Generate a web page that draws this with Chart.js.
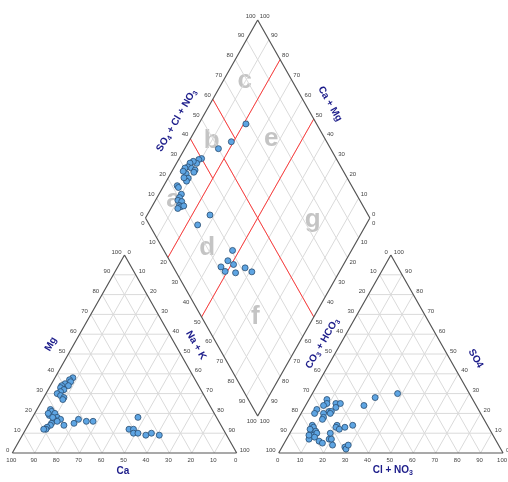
<!DOCTYPE html>
<html>
<head>
<meta charset="utf-8">
<script src="https://cdn.jsdelivr.net/npm/chart.js@4.4.1/dist/chart.umd.min.js"></script>
<style>
  html, body { margin: 0; padding: 0; background: #fff; }
  canvas { display: block; }
</style>
</head>
<body>
<canvas id="piper" width="508" height="482"></canvas>
<script>
// cations, % meq/l
const catCa  = [54, 56, 56, 59, 61, 58, 62, 61, 63, 65, 64, 63, 64,
                72, 72, 74, 71, 71, 70, 73, 72, 75, 76, 78, 79, 80, 74, 73,
                70, 65, 62, 59, 56,
                35, 42, 40, 41, 39, 36, 33, 30];
const catMg  = [38, 37, 36, 35, 34, 34, 33, 32, 31, 30, 29, 28, 27,
                22, 21, 19, 20, 18, 17, 17, 16, 15, 14, 13, 12, 12, 20, 18,
                14, 15, 17, 16, 16,
                18, 12, 12, 10, 10, 9, 10, 9];
const catNaK = [8, 7, 8, 6, 5, 8, 5, 7, 6, 5, 7, 9, 9,
                6, 7, 7, 9, 11, 13, 10, 12, 10, 10, 9, 9, 8, 6, 9,
                16, 20, 21, 25, 28,
                47, 46, 48, 49, 51, 55, 57, 61];

// anions, % meq/l
const anHCO3  = [65, 66, 68, 72, 74, 70, 71, 67, 62, 60, 63, 66, 67, 72,
                 50, 43, 32,
                 78, 78, 80, 78, 80, 83, 78, 79, 78, 74, 73, 74, 67, 68, 67, 64, 60, 72, 69, 69, 67, 80, 82, 80];
const anSO4   = [27, 25, 24, 22, 20, 20, 18, 21, 25, 25, 23, 21, 20, 17,
                 24, 28, 30,
                 14, 13, 11, 11, 9, 7, 10, 6, 5, 7, 7, 4, 14, 13, 12, 13, 14, 10, 3, 2, 4, 12, 9, 8];
const anClNO3 = [8, 9, 8, 6, 6, 10, 11, 12, 13, 15, 14, 13, 13, 11,
                 26, 29, 38,
                 8, 9, 9, 11, 11, 10, 12, 15, 17, 19, 20, 22, 19, 19, 21, 23, 26, 18, 28, 29, 29, 8, 9, 12];

// diamond: Na+K and SO4+Cl+NO3
const dmNaK    = [15, 10, 9, 9, 7, 6, 6, 5, 7, 5, 8, 10, 10, 9, 9, 7, 6, 7, 10, 10, 10, 12, 12, 13, 12, 14,
                  19, 21, 28, 25,
                  47, 47.5, 51, 46, 49, 54, 57, 61];
const dmSO4Cl  = [50, 40, 38.5, 36.6, 35.6, 33.7, 31.8, 30.2, 29.3, 28.6, 33.1, 34.2, 33.1, 29.1, 27.6, 27.3, 22.3, 22.4, 22, 20.3, 18.9, 20.3, 18.3, 18.7, 16.8, 20.1,
                  57.5, 68.5, 29.5, 21.5,
                  30.6, 25.9, 27.5, 21.3, 22, 26.3, 31.8, 33.8];

const ticks = [0, 10, 20, 30, 40, 50, 60, 70, 80, 90, 100];

// zone letters, placed by Na+K / SO4+Cl in the diamond
const zoneNames = ["a", "b", "c", "d", "e", "f", "g"];
const zoneNaK   = [8, 10, 9.5, 35, 36, 74, 75];
const zoneSO4Cl = [17, 49, 79, 20, 76, 24, 74];

// geometry
const H = Math.sqrt(3) / 2;
const GAP = 18.7;
const OX = 100 + GAP;
const LX = 50 + GAP / 2, LY = GAP * H + 100 * H; // left corner of diamond

function cat(ca, mg, na) {
  const t = ca + mg + na;
  return { x: (100 * na + 50 * mg) / t, y: H * 100 * mg / t };
}
function an(hco3, so4, cl) {
  const t = hco3 + so4 + cl;
  return { x: OX + (100 * cl + 50 * so4) / t, y: H * 100 * so4 / t };
}
function dia(n, s) {
  return { x: LX + (n + s) / 2, y: LY + H * (s - n) };
}

const BREAK = { x: null, y: null };
function segs(list) {
  const out = [];
  list.forEach(function (s) { out.push(s[0], s[1], BREAK); });
  return out;
}

// grid
const gridSegs = [];
for (let k = 10; k < 100; k += 10) {
  gridSegs.push([cat(100 - k, k, 0), cat(0, k, 100 - k)]);
  gridSegs.push([cat(100 - k, 0, k), cat(0, 100 - k, k)]);
  gridSegs.push([cat(k, 0, 100 - k), cat(k, 100 - k, 0)]);
  gridSegs.push([an(100 - k, k, 0), an(0, k, 100 - k)]);
  gridSegs.push([an(100 - k, 0, k), an(0, 100 - k, k)]);
  gridSegs.push([an(k, 0, 100 - k), an(k, 100 - k, 0)]);
  gridSegs.push([dia(k, 0), dia(k, 100)]);
  gridSegs.push([dia(0, k), dia(100, k)]);
}

const frameSegs = [
  [cat(100, 0, 0), cat(0, 0, 100)], [cat(0, 0, 100), cat(0, 100, 0)], [cat(0, 100, 0), cat(100, 0, 0)],
  [an(100, 0, 0), an(0, 0, 100)], [an(0, 0, 100), an(0, 100, 0)], [an(0, 100, 0), an(100, 0, 0)],
  [dia(0, 0), dia(0, 100)], [dia(0, 100), dia(100, 100)], [dia(100, 100), dia(100, 0)], [dia(100, 0), dia(0, 0)]
];

const zoneSegs = [
  [dia(20, 0), dia(20, 100)],
  [dia(50, 0), dia(50, 100)],
  [dia(20, 50), dia(100, 50)],
  [dia(0, 40), dia(20, 40)],
  [dia(0, 60), dia(20, 60)]
];

const samplePts = [];
catCa.forEach(function (v, i) { samplePts.push(cat(v, catMg[i], catNaK[i])); });
anHCO3.forEach(function (v, i) { samplePts.push(an(v, anSO4[i], anClNO3[i])); });
dmNaK.forEach(function (v, i) { samplePts.push(dia(v, dmSO4Cl[i])); });

function lineSet(data, color, width, order) {
  return {
    data: data, showLine: true, borderColor: color, borderWidth: width,
    pointRadius: 0, spanGaps: false, fill: false, order: order
  };
}

// tick labels along each edge
const tickAxes = [
  { at: k => cat(100 - k, k, 0), align: "right", dx: -3, dy: -3 },
  { at: k => cat(k, 0, 100 - k), align: "center", dx: -1, dy: 7 },
  { at: k => cat(0, 100 - k, k), align: "left", dx: 3, dy: -3 },
  { at: k => an(k, 100 - k, 0), align: "right", dx: -3, dy: -3 },
  { at: k => an(100 - k, 0, k), align: "center", dx: -1, dy: 7 },
  { at: k => an(0, k, 100 - k), align: "left", dx: 3, dy: -3 },
  { at: k => dia(0, k), align: "right", dx: -2, dy: -4 },
  { at: k => dia(100 - k, 100), align: "left", dx: 2, dy: -4 },
  { at: k => dia(k, 0), align: "right", dx: -1, dy: 5 },
  { at: k => dia(100, 100 - k), align: "left", dx: 2, dy: 5 }
];

const titles = [
  { parts: [["Mg", 0]], at: cat(50, 50, 0), dx: -17.5, dy: -10, rot: -60 },
  { parts: [["Ca", 0]], at: cat(50, 0, 50), dx: -1.5, dy: 18, rot: 0 },
  { parts: [["Na + K", 0]], at: cat(0, 50, 50), dx: 15.4, dy: -8.7, rot: 60 },
  { parts: [["SO", 0], ["4", 1], [" + Cl + NO", 0], ["3", 1]], at: dia(0, 44), dx: -18.4, dy: -10.4, rot: -60 },
  { parts: [["Ca + Mg", 0]], at: dia(47.8, 100), dx: 18.7, dy: -10.7, rot: 60 },
  { parts: [["CO", 0], ["3", 1], [" + HCO", 0], ["3", 1]], at: an(48.6, 51.4, 0), dx: -14.1, dy: -7.9, rot: -60 },
  { parts: [["SO4", 0]], at: an(0, 42, 58), dx: 19.8, dy: -11.2, rot: 60 },
  { parts: [["Cl + NO", 0], ["3", 1]], at: an(50, 0, 50), dx: 2, dy: 17, rot: 0 }
];

const textPlugin = {
  id: "piperText",
  beforeDatasetsDraw(chart) {
    const ctx = chart.ctx, sx = chart.scales.x, sy = chart.scales.y;
    ctx.save();
    ctx.font = "bold 26px Arial";
    ctx.fillStyle = "#c4c4c4";
    ctx.textAlign = "center";
    ctx.textBaseline = "middle";
    zoneNames.forEach(function (z, i) {
      const p = dia(zoneNaK[i], zoneSO4Cl[i]);
      ctx.fillText(z, sx.getPixelForValue(p.x), sy.getPixelForValue(p.y));
    });
    ctx.restore();
  },
  afterDatasetsDraw(chart) {
    const ctx = chart.ctx, sx = chart.scales.x, sy = chart.scales.y;
    ctx.save();
    ctx.font = "6px Arial";
    ctx.fillStyle = "#444";
    ctx.textBaseline = "middle";
    tickAxes.forEach(function (a) {
      ctx.textAlign = a.align;
      ticks.forEach(function (k) {
        const p = a.at(k);
        ctx.fillText(String(k), sx.getPixelForValue(p.x) + a.dx, sy.getPixelForValue(p.y) + a.dy);
      });
    });

    ctx.fillStyle = "#1c1c8a";
    titles.forEach(function (t) {
      const x = sx.getPixelForValue(t.at.x) + t.dx;
      const y = sy.getPixelForValue(t.at.y) + t.dy;
      let w = 0;
      t.parts.forEach(function (p) {
        ctx.font = p[1] ? "bold 7px Arial" : "bold 10px Arial";
        w += ctx.measureText(p[0]).width;
      });
      ctx.save();
      ctx.translate(x, y);
      ctx.rotate(t.rot * Math.PI / 180);
      ctx.textAlign = "left";
      let cx = -w / 2;
      t.parts.forEach(function (p) {
        ctx.font = p[1] ? "bold 7px Arial" : "bold 10px Arial";
        ctx.fillText(p[0], cx, p[1] ? 3 : 0);
        cx += ctx.measureText(p[0]).width;
      });
      ctx.restore();
    });
    ctx.restore();
  }
};

new Chart(document.getElementById("piper"), {
  type: "scatter",
  data: {
    datasets: [
      {
        data: samplePts, pointRadius: 3, pointBackgroundColor: "#5ea5e3",
        pointBorderColor: "#2a4c70", pointBorderWidth: 0.8, order: 0
      },
      lineSet(segs(frameSegs), "#555555", 1.2, 1),
      lineSet(segs(zoneSegs), "#ff3c3c", 1, 2),
      lineSet(segs(gridSegs), "#dadada", 1, 3)
    ]
  },
  options: {
    responsive: false,
    animation: false,
    events: [],
    layout: { padding: 0, autoPadding: false },
    plugins: { legend: { display: false }, tooltip: { enabled: false } },
    scales: {
      x: { type: "linear", min: -5.48, max: 220.9, display: false },
      y: { type: "linear", min: -12.68, max: 198.13, display: false }
    }
  },
  plugins: [textPlugin]
});
</script>
</body>
</html>
